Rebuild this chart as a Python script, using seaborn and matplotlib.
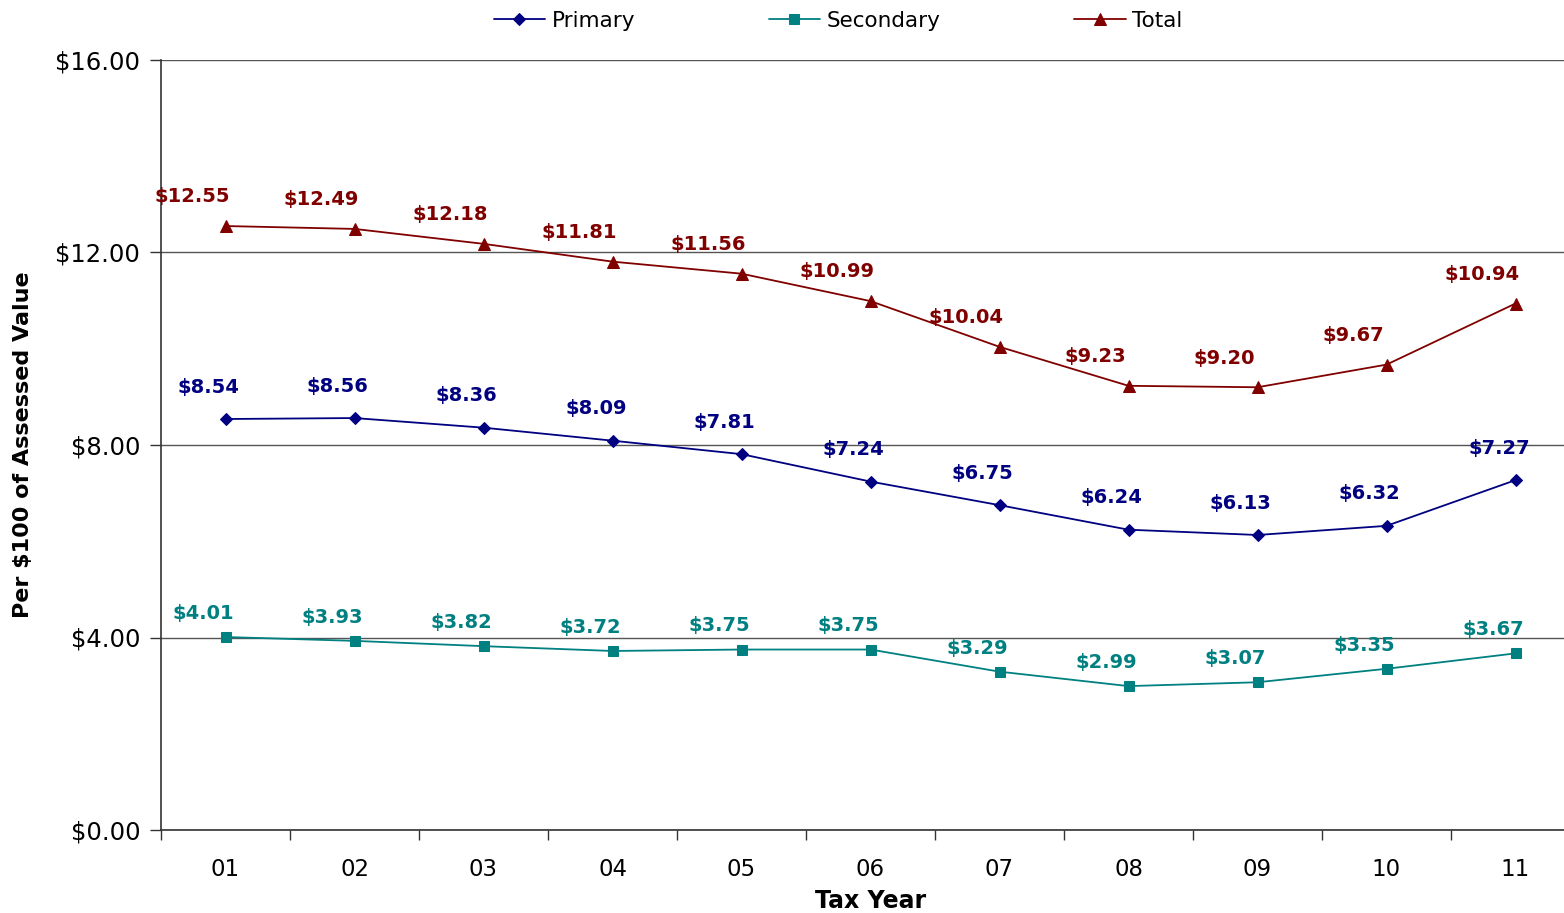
import numpy as np
import pandas as pd
import seaborn as sns
import matplotlib.pyplot as plt
from matplotlib.ticker import FuncFormatter, FixedLocator

years = ["01", "02", "03", "04", "05", "06", "07", "08", "09", "10", "11"]
primary = [8.54, 8.56, 8.36, 8.09, 7.81, 7.24, 6.75, 6.24, 6.13, 6.32, 7.27]
secondary = [4.01, 3.93, 3.82, 3.72, 3.75, 3.75, 3.29, 2.99, 3.07, 3.35, 3.67]
total = [12.55, 12.49, 12.18, 11.81, 11.56, 10.99, 10.04, 9.23, 9.20, 9.67, 10.94]

sns.set_style("white")
plt.rcParams['font.family'] = ['DejaVu Sans']
plt.rcParams['text.color'] = 'black'
plt.rcParams['axes.labelcolor'] = 'black'
plt.rcParams['xtick.color'] = 'black'
plt.rcParams['ytick.color'] = 'black'

fig = plt.figure(figsize=(15.64, 9.13), dpi=100)
# plot area runs past the right edge of the picture, as in the reference
ax = fig.add_axes([161 / 1564, 83 / 913, (1580 - 161) / 1564, 770 / 913])

series = [
    ("Primary", primary, "#000080", "D", 6, (-12, 23)),
    ("Secondary", secondary, "#008080", "s", 7, (-16, 17)),
    ("Total", total, "#800000", "^", 8, (-24, 21)),
]

for name, vals, col, mk, ms, off in series:
    df = pd.DataFrame({"year": years, "value": vals})
    sns.lineplot(data=df, x="year", y="value", color=col, marker=mk,
                 markersize=ms, markeredgecolor=col, linewidth=1.3,
                 label=name, ax=ax)
    for i, v in enumerate(vals):
        ax.annotate(f"${v:.2f}", (i, v), xytext=off, textcoords="offset points",
                    ha="center", va="center", fontsize=14, fontweight="bold",
                    color=col)

ax.set_xlim(-0.5, 10.5)
ax.set_ylim(0, 16)
ax.set_yticks([0, 4, 8, 12, 16])
ax.yaxis.set_major_formatter(FuncFormatter(lambda v, p: f"${v:.2f}"))
ax.yaxis.grid(True, color="#555555", linewidth=1)
ax.set_axisbelow(True)

ax.xaxis.set_minor_locator(FixedLocator(np.arange(-0.5, 10.5, 1.0)))
ax.tick_params(axis="x", which="major", length=0, labelsize=16.5, pad=20)
ax.tick_params(axis="x", which="minor", length=7, width=1, color="#333333",
               direction="out", bottom=True)
ax.tick_params(axis="y", length=8, width=1, color="#333333", direction="out",
               left=True, labelsize=17.5, pad=7)

for s in ["top", "right"]:
    ax.spines[s].set_visible(False)
for s in ["left", "bottom"]:
    ax.spines[s].set_color("#333333")
    ax.spines[s].set_linewidth(1.2)

ax.set_xlabel("Tax Year", fontsize=17, fontweight="bold", labelpad=6)
ax.set_ylabel("Per $100 of Assessed Value", fontsize=16, fontweight="bold",
              labelpad=16)

ax.legend(loc="upper center", bbox_to_anchor=(677 / 1419, 1.089), ncol=3,
          frameon=False, fontsize=15.5, columnspacing=6.2, handlelength=2.4,
          handletextpad=0.3)

fig.savefig("out.png", dpi=100)
